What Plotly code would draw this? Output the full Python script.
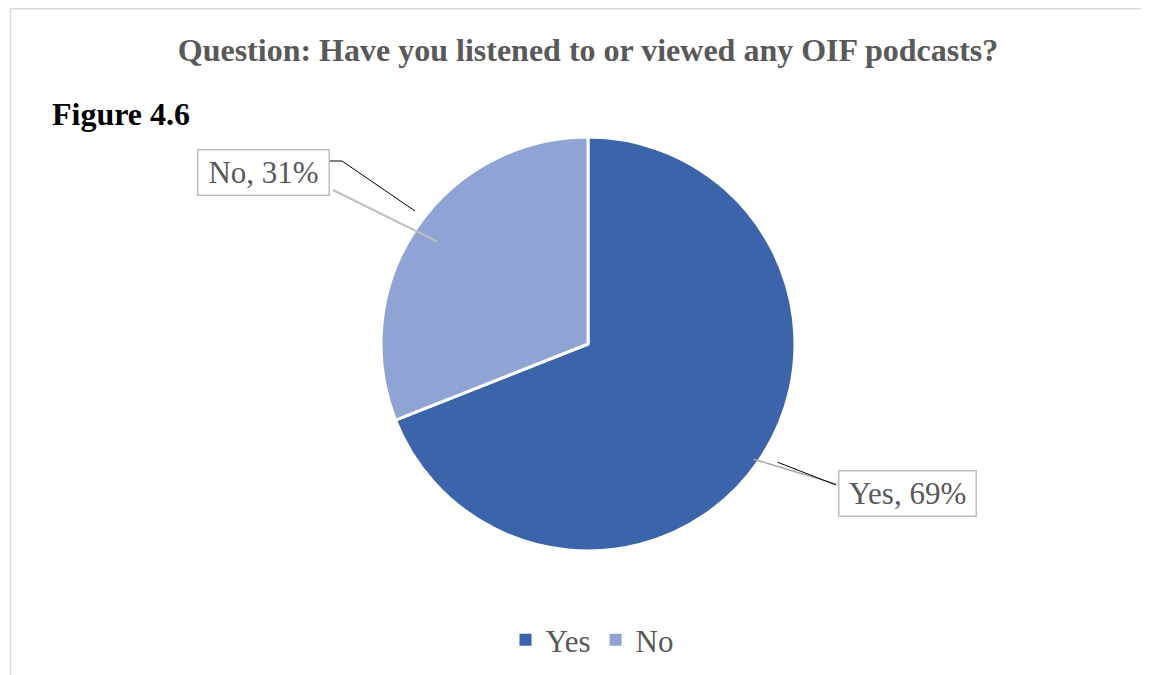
import math
import plotly.graph_objects as go

categories = ["Yes", "No"]
values = [69, 31]
colors = ["#3C64AB", "#8FA3D4"]
title_text = "Question: Have you listened to or viewed any OIF podcasts?"
figure_label = "Figure 4.6"

OFF = 8  # page body margin
W, H = 1149 - OFF, 675 - OFF
CX, CY, R = 588, 344, 207  # pie centre / radius in page pixels


def px(x):
    return (x - OFF) / W


def py(y):
    return 1 - (y - OFF) / H


fig = go.Figure()
fig.add_trace(go.Pie(
    labels=categories,
    values=values,
    sort=False,
    direction="clockwise",
    rotation=0,
    marker=dict(colors=colors, line=dict(color="white", width=3)),
    textinfo="none",
    hoverinfo="label+percent",
    showlegend=False,
    domain=dict(x=[px(CX - R), px(CX + R)], y=[py(CY + R), py(CY - R)]),
))

# legend entries (square swatches)
for name, col in zip(categories, colors):
    fig.add_trace(go.Scatter(x=[None], y=[None], mode="markers", name=name,
                             marker=dict(symbol="square", size=12, color=col),
                             showlegend=True, hoverinfo="skip"))

# data-driven slice mid angles (clockwise from 12 o'clock)
total = sum(values)
cum = 0
mids = []
for v in values:
    mids.append((cum + v / 2) / total * 2 * math.pi)
    cum += v


def pt(angle, frac):
    return CX + R * frac * math.sin(angle), CY - R * frac * math.cos(angle)


shapes = []
annotations = []
font_family = "Liberation Serif, Times New Roman, serif"

# Yes label
yx, yy = pt(mids[0], 0.99)
shapes.append(dict(type="line", xref="paper", yref="paper",
                   x0=px(yx - 4), y0=py(yy), x1=px(836), y1=py(484),
                   line=dict(color="#A6A6A6", width=1.5)))
shapes.append(dict(type="line", xref="paper", yref="paper",
                   x0=px(yx + 20), y0=py(yy + 3), x1=px(836), y1=py(485),
                   line=dict(color="#000000", width=1)))
annotations.append(dict(
    text=f"{categories[0]}, {values[0] / total * 100:.0f}%", xref="paper", yref="paper",
    x=px(907), y=py(494), xanchor="center", yanchor="middle", showarrow=False,
    font=dict(family=font_family, size=31, color="#595959"),
    bordercolor="#BFBFBF", borderwidth=1.5, borderpad=5, bgcolor="white",
    width=126, height=34))

# No label
nx, ny = pt(mids[1], 0.88)
shapes.append(dict(type="line", xref="paper", yref="paper",
                   x0=px(333), y0=py(190), x1=px(nx), y1=py(ny),
                   line=dict(color="#BFBFBF", width=2)))
shapes.append(dict(type="path", xref="paper", yref="paper",
                   path=f"M {px(330)},{py(161)} L {px(342)},{py(161)} L {px(415)},{py(211)}",
                   line=dict(color="#000000", width=1)))
annotations.append(dict(
    text=f"{categories[1]}, {values[1] / total * 100:.0f}%", xref="paper", yref="paper",
    x=px(263), y=py(173), xanchor="center", yanchor="middle", showarrow=False,
    font=dict(family=font_family, size=31, color="#595959"),
    bordercolor="#BFBFBF", borderwidth=1.5, borderpad=5, bgcolor="white",
    width=120, height=34))

# Figure label
annotations.append(dict(
    text=f"<b>{figure_label}</b>", xref="paper", yref="paper",
    x=px(50), y=py(114), xanchor="left", yanchor="middle", showarrow=False,
    font=dict(family=font_family, size=32, color="#000000")))

# chart border (light gray)
shapes.append(dict(type="rect", xref="paper", yref="paper",
                   x0=px(10.5), y0=-0.05, x1=1.05, y1=py(8.8),
                   line=dict(color="#D9D9D9", width=1.5), layer="below"))

fig.update_layout(
    width=W, height=H,
    margin=dict(l=0, r=0, t=0, b=0),
    paper_bgcolor="white",
    plot_bgcolor="white",
    xaxis=dict(visible=False, domain=[0, 0.01]),
    yaxis=dict(visible=False, domain=[0, 0.01]),
    title=dict(text=f"<b>{title_text}</b>", x=px(588), xanchor="center",
               y=py(50), yanchor="middle", yref="container",
               font=dict(family=font_family, size=32, color="#595959")),
    legend=dict(orientation="h", x=px(592), xanchor="center", y=py(640), yanchor="middle",
                font=dict(family=font_family, size=31, color="#595959"),
                itemclick=False, itemdoubleclick=False, bgcolor="rgba(0,0,0,0)"),
    shapes=shapes,
    annotations=annotations,
    showlegend=True,
)

fig.write_html("out.html")
